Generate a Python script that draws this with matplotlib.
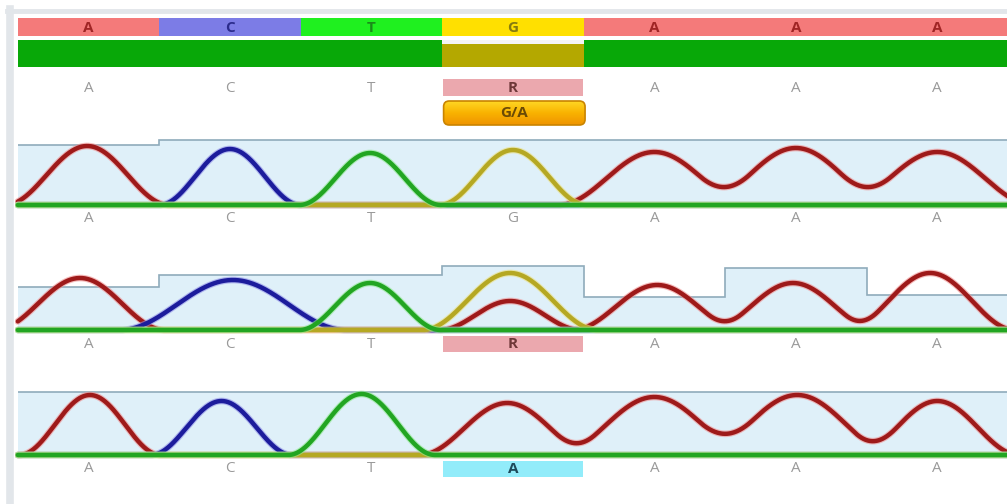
import numpy as np
import matplotlib
matplotlib.use('Agg')
import matplotlib.pyplot as plt
from matplotlib.patches import FancyBboxPatch
from matplotlib.lines import Line2D
from matplotlib.colors import LinearSegmentedColormap
import matplotlib.patheffects as pe

# reference sequence shown in the top bars
ref_bases = ['A', 'C', 'T', 'G', 'A', 'A', 'A']
ref_colors = ['#f47a7a', '#7c7ce6', '#1ff01f', '#ffe000', '#f47a7a', '#f47a7a', '#f47a7a']
ref_text_colors = ['#a02525', '#2b2b8c', '#1a8c1a', '#857a10', '#a02525', '#a02525', '#a02525']
match_colors = ['#08a808', '#08a808', '#08a808', '#b4a800', '#08a808', '#08a808', '#08a808']
consensus = ['A', 'C', 'T', 'R', 'A', 'A', 'A']
variant_col = 3
variant_label = 'G/A'

# base calls under each trace
calls_1 = ['A', 'C', 'T', 'G', 'A', 'A', 'A']
calls_2 = ['A', 'C', 'T', 'R', 'A', 'A', 'A']
calls_3 = ['A', 'C', 'T', 'A', 'A', 'A', 'A']

# quality (shaded steps) per base, pixel units above baseline
quality_1 = [60, 65, 65, 65, 65, 65, 65]
quality_2 = [43, 55, 55, 64, 33, 62, 35]
quality_3 = [63, 63, 63, 63, 63, 63, 63]

# peaks: channel, centre (base units), height, half width
peaks_1_ch = ['A', 'C', 'T', 'G', 'A', 'A', 'A']
peaks_1_pos = [0.49, 1.50, 2.49, 3.50, 4.50, 5.50, 6.50]
peaks_1_h = [59, 56, 52, 55, 53, 57, 53]
peaks_1_w = [0.58, 0.50, 0.50, 0.52, 0.68, 0.68, 0.68]

peaks_2_ch = ['A', 'C', 'T', 'G', 'A', 'A', 'A', 'A']
peaks_2_pos = [0.44, 1.52, 2.49, 3.48, 3.48, 4.52, 5.48, 6.45]
peaks_2_h = [52, 50, 47, 57, 29, 45, 47, 57]
peaks_2_w = [0.60, 0.80, 0.50, 0.62, 0.50, 0.60, 0.60, 0.60]

peaks_3_ch = ['A', 'C', 'T', 'A', 'A', 'A', 'A']
peaks_3_pos = [0.51, 1.44, 2.43, 3.46, 4.50, 5.51, 6.50]
peaks_3_h = [60, 54, 61, 52, 58, 60, 54]
peaks_3_w = [0.50, 0.50, 0.52, 0.62, 0.70, 0.70, 0.58]

channel_colors = {'A': '#9e1a1a', 'C': '#1c1c9c', 'T': '#22a522', 'G': '#b5a823'}
halo_colors = {'A': '#f09090', 'C': '#9090e8', 'T': '#90e890', 'G': '#ece080'}

W, H = 1007, 504
fig = plt.figure(figsize=(W / 100, H / 100), dpi=100)
fig.patch.set_facecolor('white')


def px_axes(x0, y_top, x1, y_bot):
    ax = fig.add_axes([x0 / W, 1 - y_bot / H, (x1 - x0) / W, (y_bot - y_top) / H])
    ax.set_axis_off()
    return ax


# light frame
fig.add_artist(Line2D([10 / W, 10 / W], [0, 1 - 9 / H], color='#e2e6ea', lw=5.5))
fig.add_artist(Line2D([7 / W, 1], [1 - 11 / H, 1 - 11 / H], color='#e2e6ea', lw=3.5))

idx = np.arange(7) + 0.5
font = 'Open Sans'

# ---- top annotation rows
top = px_axes(15, 0, 1008, 135)
top.set_xlim(-0.02, 7)
top.set_ylim(135, 0)
top.bar(idx, 18, bottom=18, width=1, color=ref_colors)
for i, b in enumerate(ref_bases):
    top.text(idx[i], 27.5, b, ha='center', va='center', fontsize=11, fontweight='bold',
             color=ref_text_colors[i], family=font)
top.bar(idx, 27, bottom=40, width=1, color=match_colors)
top.bar(idx[variant_col], 4, bottom=40, width=1, color='#f4f4f4')
top.bar(idx[variant_col], 17, bottom=79, width=0.99, color='#eba8ae')
for i, b in enumerate(consensus):
    if i == variant_col:
        top.text(idx[i], 88, b, ha='center', va='center', fontsize=11, fontweight='bold',
                 color='#6e3838', family=font)
    else:
        top.text(idx[i], 88, b, ha='center', va='center', fontsize=11, color='#9a9a9a', family=font)
box = FancyBboxPatch((variant_col + 0.01, 101), 1.0, 24,
                     boxstyle='round,pad=0,rounding_size=0.04', mutation_aspect=141.4,
                     facecolor='none', edgecolor='#c98400', lw=1.2, zorder=3)
top.add_patch(box)
grad = LinearSegmentedColormap.from_list('gold', ['#ffd724', '#f9b200', '#ef9400'])
img = top.imshow(np.linspace(0, 1, 50).reshape(-1, 1), cmap=grad, aspect='auto',
                 extent=(variant_col + 0.01, variant_col + 1.01, 125, 101), zorder=2)
img.set_clip_path(box)
top.set_xlim(-0.02, 7)
top.set_ylim(135, 0)
top.text(variant_col + 0.51, 113, variant_label, ha='center', va='center', fontsize=11,
         fontweight='bold', color='#6b4a05', family=font, zorder=4)


# ---- traces
def draw_trace(baseline, quality, ch, pos, hgt, wid, calls, box_color=None, box_text=None):
    ax = px_axes(15, baseline - 75, 1008, baseline + 25)
    ax.set_xlim(-0.02, 7)
    ax.set_ylim(-25, 75)
    edges = np.arange(8)
    ax.stairs(quality, edges, fill=True, color='#dff0f9', baseline=0)
    ax.stairs(quality, edges, baseline=None, color='#8fabbb', lw=1.2)
    x = np.linspace(0, 7, 1400)
    curves = {c: np.zeros_like(x) for c in 'ACGT'}
    for c, p, h, w in zip(ch, pos, hgt, wid):
        d = np.abs(x - p)
        curves[c] += np.where(d < w, h * (0.5 + 0.5 * np.cos(np.pi * d / w)), 0.0)
    for c in ['A', 'C', 'G', 'T']:
        ax.plot(x, curves[c], color=channel_colors[c], lw=3.2, solid_capstyle='round',
                path_effects=[pe.Stroke(linewidth=4.8, foreground=halo_colors[c], alpha=0.6), pe.Normal()])
    if box_color is not None:
        ax.bar(idx[variant_col], 16, bottom=-22, width=0.99, color=box_color)
    for i, b in enumerate(calls):
        if box_color is not None and i == variant_col:
            ax.text(idx[i], -14, b, ha='center', va='center', fontsize=11, fontweight='bold',
                    color=box_text, family=font)
        else:
            ax.text(idx[i], -14, b, ha='center', va='center', fontsize=11, color='#9a9a9a', family=font)


draw_trace(205, quality_1, peaks_1_ch, peaks_1_pos, peaks_1_h, peaks_1_w, calls_1)
draw_trace(330, quality_2, peaks_2_ch, peaks_2_pos, peaks_2_h, peaks_2_w, calls_2, '#eba8ae', '#6e3838')
draw_trace(455, quality_3, peaks_3_ch, peaks_3_pos, peaks_3_h, peaks_3_w, calls_3, '#92ecfa', '#1e4a5a')

fig.savefig('out.png', dpi=100)
